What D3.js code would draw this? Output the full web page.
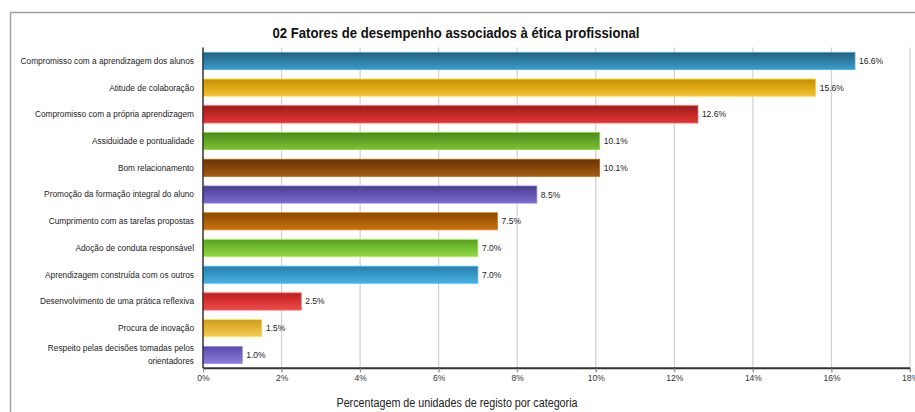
<!DOCTYPE html>
<html>
<head>
<meta charset="utf-8">
<script src="https://cdn.jsdelivr.net/npm/d3@7"></script>
<style>
  body { margin: 0; background: #fff; }
  svg { display: block; font-family: "Liberation Sans", Arial, sans-serif; }
  .grid line { stroke: #d0d0d0; stroke-width: 1.2; }
</style>
</head>
<body>
<script>
// data
const categories = [
  'Compromisso com a aprendizagem dos alunos',
  'Atitude de colaboração',
  'Compromisso com a própria aprendizagem',
  'Assiduidade e pontualidade',
  'Bom relacionamento',
  'Promoção da formação integral do aluno',
  'Cumprimento com as tarefas propostas',
  'Adoção de conduta responsável',
  'Aprendizagem construída com os outros',
  'Desenvolvimento de uma prática reflexiva',
  'Procura de inovação',
  'Respeito pelas decisões tomadas pelos orientadores'
];
const values = [16.6, 15.6, 12.6, 10.1, 10.1, 8.5, 7.5, 7.0, 7.0, 2.5, 1.5, 1.0];
const tickValues = [0, 2, 4, 6, 8, 10, 12, 14, 16, 18];

const title = '02 Fatores de desempenho associados à ética profissional';
const axisTitle = 'Percentagem de unidades de registo por categoria';

// bar colours: [top, bottom]
const palette = [
  ['#25607f', '#3a9cca'],
  ['#c88f00', '#f4c232'],
  ['#9c1b1b', '#e63333'],
  ['#4b8a1c', '#7cc234'],
  ['#683304', '#a65a10'],
  ['#4a3c8c', '#7c6cd2'],
  ['#8a4904', '#c9720f'],
  ['#5aa020', '#92da42'],
  ['#2a7eac', '#44b2e2'],
  ['#bf2020', '#f04a4a'],
  ['#d29c1a', '#f5cd52'],
  ['#5a4aa8', '#8a7be2']
];

const W = 915, H = 412;
const margin = {left: 203, top: 47.5, right: 5, bottom: 44};
const plotW = 910 - margin.left, plotH = 368.3 - margin.top;

const svg = d3.select('body').append('svg')
  .attr('width', W).attr('height', H);

// frame
svg.append('path')
  .attr('d', `M10.5,${H} V12.5 H${W}`)
  .attr('fill', 'none').attr('stroke', '#a0a0a0').attr('stroke-width', 1.5);

const defs = svg.append('defs');
palette.forEach((c, i) => {
  const g = defs.append('linearGradient')
    .attr('id', 'grad' + i).attr('x1', 0).attr('x2', 0).attr('y1', 0).attr('y2', 1);
  g.append('stop').attr('offset', '0%').attr('stop-color', c[0]);
  g.append('stop').attr('offset', '100%').attr('stop-color', c[1]);
});

const x = d3.scaleLinear().domain([0, 18]).range([0, plotW]);
const y = d3.scaleBand().domain(categories).range([0, plotH]).paddingInner(0.36).paddingOuter(0.18);

const g = svg.append('g').attr('transform', `translate(${margin.left},${margin.top})`);

// gridlines
g.append('g').attr('class', 'grid')
  .selectAll('line').data(tickValues.slice(1)).enter().append('line')
  .attr('x1', d => x(d)).attr('x2', d => x(d))
  .attr('y1', 0).attr('y2', plotH + 4);

// bars
g.selectAll('rect.bar').data(values).enter().append('rect')
  .attr('class', 'bar')
  .attr('x', 0)
  .attr('y', (d, i) => y(categories[i]))
  .attr('width', d => x(d))
  .attr('height', y.bandwidth())
  .attr('fill', (d, i) => `url(#grad${i})`)
  .attr('stroke', (d, i) => d3.color(palette[i][1]).brighter(0.3))
  .attr('stroke-width', 0.8);

// value labels
g.selectAll('text.val').data(values).enter().append('text')
  .attr('class', 'val')
  .attr('x', d => x(d) + 4)
  .attr('y', (d, i) => y(categories[i]) + y.bandwidth() / 2)
  .attr('dy', '0.35em')
  .attr('font-size', 8.5)
  .attr('fill', '#222')
  .text(d => d.toFixed(1) + '%');

// category labels
const labels = g.selectAll('text.cat').data(categories).enter().append('text')
  .attr('class', 'cat')
  .attr('text-anchor', 'end')
  .attr('font-size', 8.3)
  .attr('fill', '#222')
  .attr('x', -9)
  .attr('y', d => y(d) + y.bandwidth() / 2);
labels.each(function (d) {
  const t = d3.select(this);
  if (d.length > 45) {
    const cut = d.lastIndexOf(' ');
    t.append('tspan').attr('x', -9).attr('dy', '-0.45em').text(d.slice(0, cut));
    t.append('tspan').attr('x', -9).attr('dy', '1.6em').text(d.slice(cut + 1));
  } else {
    t.attr('dy', '0.35em').text(d);
  }
});

// y axis line
g.append('line').attr('x1', 0).attr('x2', 0).attr('y1', 0).attr('y2', plotH)
  .attr('stroke', '#333').attr('stroke-width', 1.5);

// x axis
const xAxis = g.append('g').attr('transform', `translate(0,${plotH})`)
  .call(d3.axisBottom(x).tickValues(tickValues).tickSize(4).tickFormat(d => d + '%'));
xAxis.select('.domain').attr('stroke', '#333').attr('stroke-width', 2).attr('d', `M0,0H${plotW}`);
xAxis.selectAll('.tick line').attr('stroke', '#888');
xAxis.selectAll('.tick text')
  .attr('font-family', '"Liberation Sans", Arial, sans-serif')
  .attr('font-size', 8.5).attr('fill', '#333').attr('y', 7);

// axis title
svg.append('text')
  .attr('x', 457).attr('y', 403).attr('dy', '0.35em')
  .attr('text-anchor', 'middle')
  .attr('font-size', 12).attr('fill', '#222')
  .attr('textLength', 241).attr('lengthAdjust', 'spacingAndGlyphs')
  .text(axisTitle);

// title
svg.append('text')
  .attr('x', 456).attr('y', 33).attr('dy', '0.35em')
  .attr('text-anchor', 'middle')
  .attr('font-size', 15).attr('font-weight', 'bold').attr('fill', '#111')
  .attr('textLength', 367).attr('lengthAdjust', 'spacingAndGlyphs')
  .text(title);
</script>
</body>
</html>
